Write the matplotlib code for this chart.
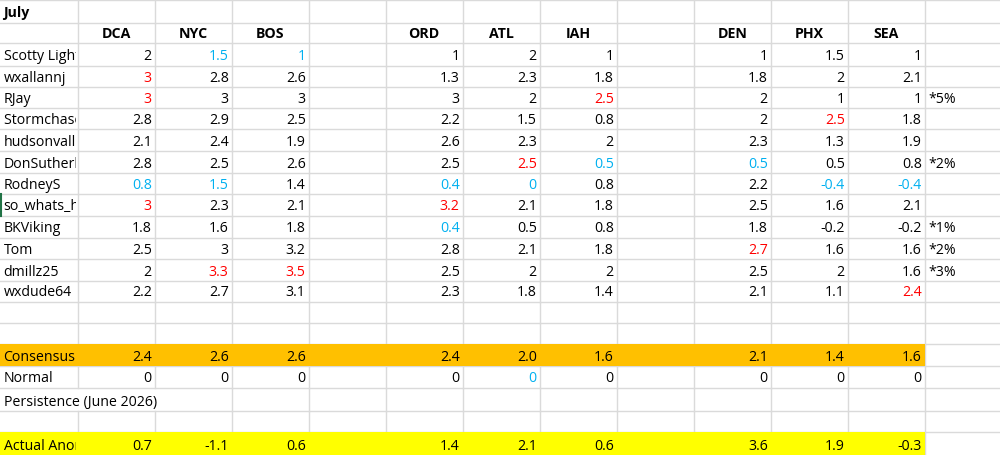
import matplotlib
matplotlib.use("Agg")
import matplotlib.pyplot as plt
from matplotlib.patches import Rectangle
from matplotlib.transforms import Bbox

plt.rcParams['font.family'] = ['Open Sans', 'DejaVu Sans']

# ---------------- data ----------------
title = "July"
stations = ["DCA", "NYC", "BOS", None, "ORD", "ATL", "IAH", None, "DEN", "PHX", "SEA"]
forecasters = ["Scotty Lightning", "wxallannj", "RJay", "Stormchaser Chuck",
               "hudsonvalley21", "DonSutherland1", "RodneyS", "so_whats_happening",
               "BKViking", "Tom", "dmillz25", "wxdude64"]
DCA = [2, 3, 3, 2.8, 2.1, 2.8, 0.8, 3, 1.8, 2.5, 2, 2.2]
NYC = [1.5, 2.8, 3, 2.9, 2.4, 2.5, 1.5, 2.3, 1.6, 3, 3.3, 2.7]
BOS = [1, 2.6, 3, 2.5, 1.9, 2.6, 1.4, 2.1, 1.8, 3.2, 3.5, 3.1]
ORD = [1, 1.3, 3, 2.2, 2.6, 2.5, 0.4, 3.2, 0.4, 2.8, 2.5, 2.3]
ATL = [2, 2.3, 2, 1.5, 2.3, 2.5, 0, 2.1, 0.5, 2.1, 2, 1.8]
IAH = [1, 1.8, 2.5, 0.8, 2, 0.5, 0.8, 1.8, 0.8, 1.8, 2, 1.4]
DEN = [1, 1.8, 2, 2, 2.3, 0.5, 2.2, 2.5, 1.8, 2.7, 2.5, 2.1]
PHX = [1.5, 2, 1, 2.5, 1.3, 0.5, -0.4, 1.6, -0.2, 1.6, 2, 1.1]
SEA = [1, 2.1, 1, 1.8, 1.9, 0.8, -0.4, 2.1, -0.2, 1.6, 1.6, 2.4]
notes = ["", "", "*5%", "", "", "*2%", "", "", "*1%", "*2%", "*3%", ""]
consensus = [2.4, 2.6, 2.6, 2.4, 2.0, 1.6, 2.1, 1.4, 1.6]
normal = [0, 0, 0, 0, 0, 0, 0, 0, 0]
actual = [0.7, -1.1, 0.6, 1.4, 2.1, 0.6, 3.6, 1.9, -0.3]
persistence_label = "Persistence (June 2026)"

forecast_cols = [DCA, NYC, BOS, ORD, ATL, IAH, DEN, PHX, SEA]

# ---------------- layout ----------------
W, H = 1000, 455
fig = plt.figure(figsize=(10, 4.55), dpi=100)
ax = fig.add_axes([0, 0, 1, 1])
ax.set_xlim(0, W)
ax.set_ylim(H, 0)
ax.axis('off')

col_edges = [0, 77.7] + [77.7 + 77.0 * k for k in range(1, 13)]
row_edges = [0, 22.7, 43.3, 65.7, 86.7, 108.3, 129.3, 150.7, 172.7, 194, 215.7,
             237.7, 259, 280.7, 301.7, 322.7, 344, 366, 387.7, 411, 432.3, 455]
grid_c = '#DADADA'
RED = '#FF0000'
BLUE = '#00B0F0'
FS = 10.2

data_col = [i + 1 for i, s in enumerate(stations) if s is not None]

R_TITLE, R_HEAD = 0, 1
R_F0 = 2
R_CONS, R_NORM, R_PERS, R_ACT = 16, 17, 18, 20

# fills
fill_right = col_edges[12]
for r, c in [(R_CONS, '#FFC000'), (R_ACT, '#FFFF00')]:
    ax.add_patch(Rectangle((0, row_edges[r]), fill_right, row_edges[r + 1] - row_edges[r],
                           facecolor=c, edgecolor='none', zorder=2))

# gridlines
for y in row_edges[:-1]:
    ax.plot([0, W], [y, y], color=grid_c, lw=1.0, zorder=1)
for i, x in enumerate(col_edges[1:], start=1):
    for r in range(len(row_edges) - 1):
        if r == R_PERS and i in (1, 2):
            continue
        ax.plot([x, x], [row_edges[r], row_edges[r + 1]], color=grid_c, lw=1.0, zorder=1)
# active cell marker (green left edge)
ax.plot([0.8, 0.8], [row_edges[9], row_edges[10]], color='#217346', lw=1.5, zorder=3)


def cell_text(r, c, s, ha='right', color='black', bold=False, clip=False):
    y = row_edges[r + 1] - 5.2
    if ha == 'right':
        x = col_edges[c + 1] - 3
    elif ha == 'left':
        x = col_edges[c] + 3.5
    else:
        x = (col_edges[c] + col_edges[c + 1]) / 2
    t = ax.text(x, y, s, ha=ha, va='baseline', fontsize=FS, color=color,
                fontweight='bold' if bold else 'normal', zorder=4)
    if clip:
        p = ax.transData.transform([(col_edges[c], row_edges[r]),
                                    (col_edges[c + 1] - 1.5, row_edges[r + 1])])
        bb = Bbox.from_extents(min(p[:, 0]), min(p[:, 1]), max(p[:, 0]), max(p[:, 1]))
        t.set_clip_box(bb)
        t.set_clip_on(True)
    return t


def fmt(v):
    return ('%g' % v)


cell_text(R_TITLE, 0, title, ha='left', bold=True)
for i, s in enumerate(stations):
    if s is not None:
        cell_text(R_HEAD, i + 1, s, ha='center', bold=True)

for k, name in enumerate(forecasters):
    cell_text(R_F0 + k, 0, name, ha='left', clip=True)
    if notes[k]:
        cell_text(R_F0 + k, 12, notes[k], ha='left')

for j, vals in enumerate(forecast_cols):
    c = data_col[j]
    vmax, vmin = max(vals), min(vals)
    for k, v in enumerate(vals):
        color = RED if v == vmax else (BLUE if v == vmin else 'black')
        cell_text(R_F0 + k, c, fmt(v), color=color)
    cell_text(R_CONS, c, '%.1f' % consensus[j])
    ncol = BLUE if normal[j] == vmin else 'black'
    cell_text(R_NORM, c, fmt(normal[j]), color=ncol)
    cell_text(R_ACT, c, '%.1f' % actual[j])

cell_text(R_CONS, 0, "Consensus", ha='left', clip=True)
cell_text(R_NORM, 0, "Normal", ha='left', clip=True)
cell_text(R_PERS, 0, persistence_label, ha='left')
cell_text(R_ACT, 0, "Actual Anomaly", ha='left', clip=True)

fig.savefig("out.png", dpi=100, facecolor='white')
